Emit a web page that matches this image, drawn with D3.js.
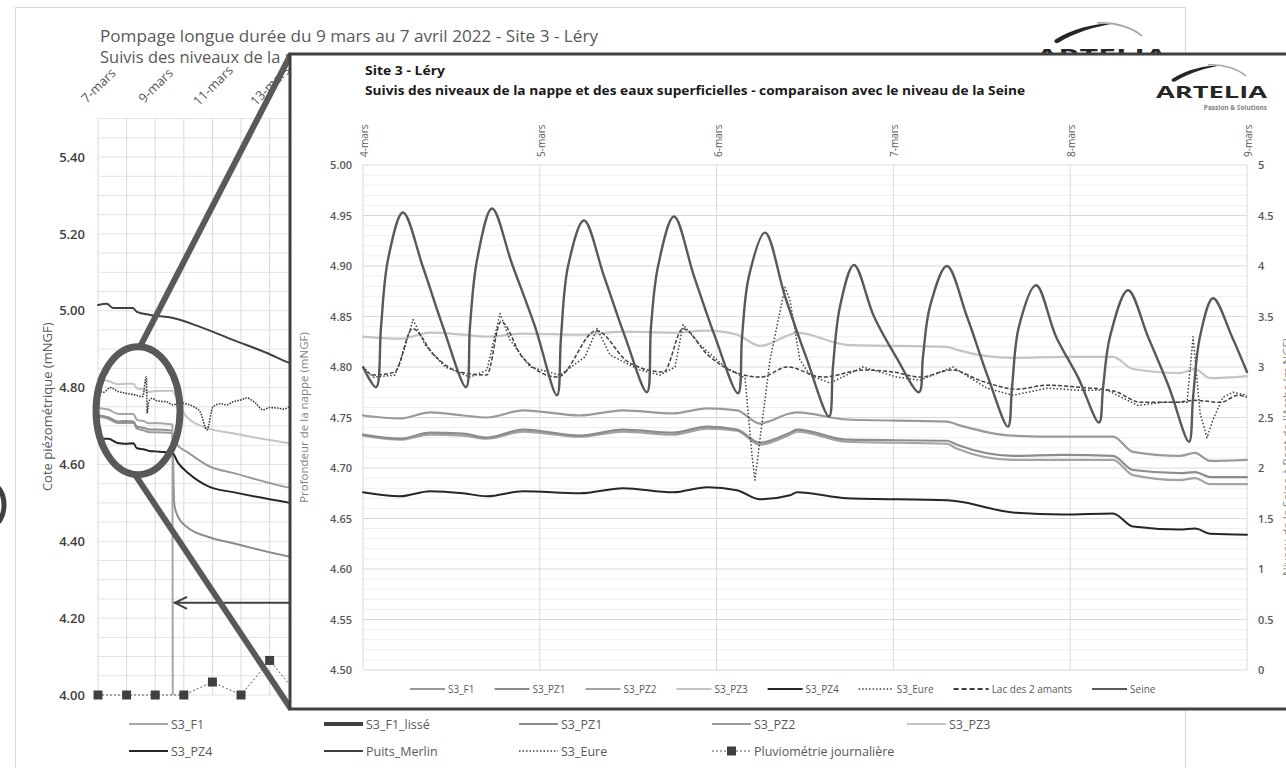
<!DOCTYPE html>
<html lang="fr">
<head>
<meta charset="UTF-8">
<title>Site 3 - Léry</title>
<script src="https://cdn.jsdelivr.net/npm/d3@7"></script>
<style>
  body { margin: 0; background: #fff; }
  svg { display: block; font-family: 'Open Sans', sans-serif; }
</style>
</head>
<body>
<script>
// ---------- données : graphique de fond (jours comptés depuis le 1er mars) ----------
const bgDayTicks  = [7, 9, 11, 13, 15, 17, 19, 21, 23, 25, 27, 29, 31, 33, 35, 37, 39];
const bgDayLabels = ['7-mars', '9-mars', '11-mars', '13-mars', '15-mars', '17-mars', '19-mars', '21-mars',
  '23-mars', '25-mars', '27-mars', '29-mars', '31-mars', '2-avr.', '4-avr.', '6-avr.', '8-avr.'];
const bgYTicks = [4.0, 4.2, 4.4, 4.6, 4.8, 5.0, 5.2, 5.4];

const bgF1Days = [7.0, 7.36, 7.68, 7.96, 8.24, 8.36, 8.62, 8.79, 9.0, 9.6, 9.63, 14.5];
const bgF1     = [4.747, 4.743, 4.732, 4.731, 4.731, 4.716, 4.712, 4.707, 4.708, 4.704, 3.2, 3.1];
const bgF1LisseDays = [9.63, 14.5];
const bgF1Lisse     = [3.3, 3.2];
const bgPZ1Days = [7.0, 7.36, 7.68, 7.96, 8.24, 8.36, 8.62, 8.79, 9.0, 9.6, 9.66, 9.76, 10.11, 10.92, 11.72, 13.71, 14.5];
const bgPZ1     = [4.728, 4.723, 4.712, 4.713, 4.712, 4.698, 4.695, 4.691, 4.691, 4.688, 4.50, 4.47, 4.437, 4.41, 4.395, 4.36, 4.35];
const bgPZ2Days = [7.0, 7.36, 7.68, 7.96, 8.24, 8.36, 8.62, 8.79, 9.0, 9.6, 9.72, 10.17, 10.92, 11.72, 13.71, 14.5];
const bgPZ2     = [4.725, 4.719, 4.708, 4.708, 4.708, 4.693, 4.688, 4.684, 4.684, 4.682, 4.656, 4.63, 4.594, 4.578, 4.539, 4.53];
const bgPZ3Days = [7.0, 7.36, 7.68, 7.96, 8.24, 8.36, 8.62, 8.79, 9.0, 9.6, 9.8, 10.11, 10.8, 11.72, 13.71, 14.5];
const bgPZ3     = [4.823, 4.817, 4.809, 4.810, 4.810, 4.798, 4.794, 4.789, 4.791, 4.792, 4.76, 4.723, 4.695, 4.681, 4.655, 4.648];
const bgPZ4Days = [7.0, 7.36, 7.68, 7.96, 8.24, 8.36, 8.62, 8.79, 9.0, 9.6, 9.8, 10.15, 10.92, 11.72, 13.71, 14.5];
const bgPZ4     = [4.667, 4.667, 4.656, 4.654, 4.655, 4.642, 4.639, 4.635, 4.634, 4.630, 4.604, 4.578, 4.541, 4.528, 4.50, 4.49];
const bgMerlinDays = [7.0, 7.31, 7.52, 8.22, 8.36, 8.82, 9.62, 10.57, 11.72, 12.91, 13.71, 14.5];
const bgMerlin     = [5.015, 5.018, 5.007, 5.007, 4.997, 4.989, 4.981, 4.958, 4.924, 4.89, 4.864, 4.85];
const bgEureDays = [7.0, 7.2, 7.42, 7.7, 8.0, 8.3, 8.56, 8.69, 8.72, 8.76, 8.87, 9.1, 9.4, 9.62, 9.9, 10.11, 10.35,
  10.57, 10.81, 11.02, 11.3, 11.5, 11.72, 12.0, 12.2, 12.5, 12.77, 13.0, 13.26, 13.5, 13.71, 14.5];
const bgEure     = [4.794, 4.788, 4.800, 4.790, 4.785, 4.781, 4.776, 4.828, 4.733, 4.760, 4.772, 4.765, 4.763, 4.755,
  4.760, 4.757, 4.750, 4.737, 4.69, 4.75, 4.758, 4.755, 4.763, 4.768, 4.773, 4.760, 4.742, 4.748, 4.747, 4.744, 4.75, 4.752];
const rainDays = [7, 8, 9, 10, 11, 12, 13, 14];
const rainMm   = [0, 0, 0, 0, 0.9, 0, 2.4, 0];
const pumpStart = 9.62;

// ---------- données : zoom du 4 au 9 mars ----------
const insetDayTicks  = [4, 5, 6, 7, 8, 9];
const insetDayLabels = ['4-mars', '5-mars', '6-mars', '7-mars', '8-mars', '9-mars'];
const insetYTicks = [4.50, 4.55, 4.60, 4.65, 4.70, 4.75, 4.80, 4.85, 4.90, 4.95, 5.00];
const seineTicks  = [0, 0.5, 1, 1.5, 2, 2.5, 3, 3.5, 4, 4.5, 5];

const insetTimes = [4.0, 4.209, 4.379, 4.566, 4.701, 4.905, 5.227, 5.471, 5.753, 5.946, 6.115, 6.245, 6.415,
  6.455, 6.738, 7.303, 7.360, 7.676, 7.959, 8.242, 8.355, 8.621, 8.706, 8.791, 9.0];
const inF1  = [4.752, 4.749, 4.755, 4.752, 4.750, 4.757, 4.752, 4.757, 4.754, 4.759, 4.757, 4.744, 4.754,
  4.755, 4.748, 4.746, 4.743, 4.732, 4.731, 4.731, 4.716, 4.712, 4.715, 4.707, 4.708];
const inPZ1 = [4.733, 4.729, 4.735, 4.734, 4.730, 4.738, 4.732, 4.738, 4.735, 4.741, 4.738, 4.725, 4.735,
  4.738, 4.728, 4.727, 4.723, 4.712, 4.713, 4.712, 4.698, 4.695, 4.696, 4.691, 4.691];
const inPZ2 = [4.732, 4.728, 4.733, 4.732, 4.729, 4.736, 4.731, 4.736, 4.733, 4.739, 4.737, 4.723, 4.733,
  4.736, 4.726, 4.724, 4.719, 4.708, 4.708, 4.708, 4.693, 4.688, 4.690, 4.684, 4.684];
const inPZ3 = [4.830, 4.828, 4.834, 4.832, 4.830, 4.833, 4.832, 4.835, 4.834, 4.836, 4.832, 4.821, 4.832,
  4.834, 4.822, 4.820, 4.817, 4.809, 4.810, 4.810, 4.798, 4.794, 4.798, 4.789, 4.791];
const inPZ4 = [4.676, 4.672, 4.677, 4.675, 4.672, 4.677, 4.675, 4.680, 4.676, 4.681, 4.678, 4.669, 4.673,
  4.676, 4.670, 4.668, 4.667, 4.656, 4.654, 4.655, 4.642, 4.639, 4.640, 4.635, 4.634];

const eureTimes = [4.0, 4.057, 4.181, 4.238, 4.283, 4.351, 4.464, 4.605, 4.701, 4.775, 4.831, 4.945, 5.114,
  5.256, 5.324, 5.397, 5.567, 5.680, 5.765, 5.810, 5.906, 6.048, 6.161, 6.200, 6.217, 6.245, 6.302, 6.387,
  6.415, 6.471, 6.528, 6.641, 6.828, 7.020, 7.150, 7.337, 7.529, 7.676, 7.869, 8.055, 8.208, 8.383, 8.525,
  8.661, 8.695, 8.735, 8.774, 8.808, 8.864, 8.921, 9.0];
const eureLevel = [4.800, 4.790, 4.792, 4.820, 4.847, 4.822, 4.800, 4.790, 4.797, 4.853, 4.827, 4.800, 4.792,
  4.810, 4.838, 4.812, 4.797, 4.792, 4.800, 4.842, 4.822, 4.800, 4.789, 4.713, 4.688, 4.728, 4.807, 4.879,
  4.866, 4.807, 4.792, 4.784, 4.800, 4.790, 4.787, 4.800, 4.779, 4.772, 4.779, 4.777, 4.777, 4.762, 4.765,
  4.765, 4.830, 4.754, 4.730, 4.748, 4.770, 4.775, 4.772];

const lacTimes = [4.0, 4.06, 4.18, 4.28, 4.40, 4.55, 4.70, 4.78, 4.90, 5.10, 5.32, 5.50, 5.70, 5.81, 5.95,
  6.10, 6.25, 6.40, 6.60, 6.83, 7.00, 7.15, 7.33, 7.50, 7.70, 7.87, 8.05, 8.25, 8.40, 8.60, 8.70, 8.85, 8.95, 9.0];
const lacLevel = [4.800, 4.792, 4.795, 4.838, 4.812, 4.795, 4.792, 4.845, 4.810, 4.790, 4.836, 4.805, 4.795,
  4.838, 4.812, 4.795, 4.790, 4.800, 4.790, 4.797, 4.795, 4.790, 4.797, 4.786, 4.778, 4.782, 4.780, 4.776,
  4.765, 4.765, 4.767, 4.765, 4.772, 4.770];

const seineTimes = [4.000, 4.074, 4.102, 4.141, 4.226, 4.339, 4.452, 4.583, 4.605, 4.645, 4.730, 4.843, 4.973,
  5.097, 5.120, 5.160, 5.250, 5.363, 5.482, 5.606, 5.629, 5.669, 5.759, 5.872, 5.991, 6.121, 6.144, 6.183,
  6.274, 6.387, 6.506, 6.636, 6.658, 6.698, 6.777, 6.890, 7.015, 7.145, 7.167, 7.207, 7.303, 7.416, 7.535,
  7.648, 7.671, 7.710, 7.807, 7.920, 8.044, 8.163, 8.186, 8.225, 8.327, 8.440, 8.559, 8.672, 8.695, 8.734,
  8.808, 8.915, 9.000];
const seineLevel = [3.00, 2.80, 3.40, 4.06, 4.53, 3.99, 3.40, 2.80, 3.40, 4.06, 4.57, 4.02, 3.40,
  2.72, 3.30, 4.00, 4.45, 3.90, 3.30, 2.75, 3.40, 4.00, 4.49, 3.90, 3.30, 2.74, 3.30, 3.90,
  4.33, 3.70, 3.10, 2.51, 3.00, 3.60, 4.01, 3.50, 3.10, 2.75, 3.10, 3.60, 4.00, 3.50, 2.90,
  2.41, 2.80, 3.40, 3.81, 3.30, 2.90, 2.45, 2.80, 3.30, 3.76, 3.30, 2.80, 2.26, 2.70, 3.30,
  3.68, 3.30, 2.95];

// ---------- mise en page ----------
const W = 1286, H = 768;
const svg = d3.select('body').append('svg').attr('width', W).attr('height', H);

function addText(g, x, y, str, size, opts) {
  opts = opts || {};
  const t = g.append('text').attr('x', x).attr('y', y).text(str)
    .attr('font-size', size)
    .attr('fill', opts.fill || '#595959')
    .attr('font-weight', opts.weight || 400)
    .attr('text-anchor', opts.anchor || 'start');
  if (opts.fit) t.attr('textLength', opts.fit).attr('lengthAdjust', 'spacingAndGlyphs');
  if (opts.rotate) t.attr('transform', 'rotate(' + opts.rotate + ',' + x + ',' + y + ')');
  return t;
}

function drawSeries(g, xs, ys, xScale, yScale, st) {
  const line = d3.line()
    .x(function (d) { return xScale(d[0]); })
    .y(function (d) { return yScale(d[1]); })
    .curve(st.curve || d3.curveMonotoneX);
  return g.append('path')
    .attr('d', line(d3.zip(xs, ys)))
    .attr('fill', 'none')
    .attr('stroke', st.color)
    .attr('stroke-width', st.width)
    .attr('stroke-dasharray', st.dash || null)
    .attr('stroke-linejoin', 'round')
    .attr('stroke-linecap', st.dash ? 'butt' : 'round');
}

function drawLogo(g, x, y, s, tagline) {
  const lg = g.append('g').attr('transform', 'translate(' + x + ',' + y + ') scale(' + s + ')');
  lg.append('path')
    .attr('d', 'M16,15 C30,6 48,1 68,1 C50,3.5 33,9 19,17.5 C17,18.5 14.5,17 16,15 Z')
    .attr('fill', '#262626');
  lg.append('path')
    .attr('d', 'M52,0.8 C68,0 82,5 90,12')
    .attr('fill', 'none').attr('stroke', '#a6a6a6').attr('stroke-width', 1.4);
  addText(lg, 0, 34, 'ARTELIA', 15.5, { fill: '#262626', weight: 700, fit: 111 });
  if (tagline) addText(lg, 111, 46, 'Passion & Solutions', 6.5, { fill: '#808080', weight: 700, anchor: 'end' });
}

// ================= graphique de fond =================
const bg = { left: 98, right: 1042, top: 118.6, bottom: 695 };
const bgX = d3.scaleLinear().domain([7, 40]).range([bg.left, bg.right]);
const bgY = d3.scaleLinear().domain([4.0, 5.5]).range([bg.bottom, bg.top]);
const bgRain = d3.scaleLinear().domain([0, 40]).range([bg.bottom, bg.top]);

const bgG = svg.append('g');
bgG.append('rect').attr('x', 15.5).attr('y', 7.5).attr('width', 1170).attr('height', 800)
  .attr('fill', '#fff').attr('stroke', '#d9d9d9');

addText(bgG, 100, 42, 'Pompage longue durée du 9 mars au 7 avril 2022 - Site 3 - Léry', 16.5, { fit: 498 });
addText(bgG, 100, 63, 'Suivis des niveaux de la nappe', 16.5);
drawLogo(bgG, 1036, 22, 1.18, false);

svg.append('defs').append('clipPath').attr('id', 'bg-clip')
  .append('rect').attr('x', bg.left - 2).attr('y', bg.top)
  .attr('width', bg.right - bg.left + 4).attr('height', bg.bottom - bg.top);

const bgGrid = bgG.append('g');
bgGrid.selectAll('line.h').data(d3.range(80, 111).map(function (k) { return k / 20; }))
  .enter().append('line')
  .attr('x1', bg.left).attr('x2', bg.right)
  .attr('y1', function (d) { return bgY(d); }).attr('y2', function (d) { return bgY(d); })
  .attr('stroke', '#e3e3e3');
bgGrid.selectAll('line.v').data(d3.range(7, 41))
  .enter().append('line')
  .attr('x1', function (d) { return bgX(d); }).attr('x2', function (d) { return bgX(d); })
  .attr('y1', bg.top).attr('y2', bg.bottom)
  .attr('stroke', '#d9d9d9');

const bgTopAxis = bgG.append('g').attr('transform', 'translate(0,' + (bg.top - 33) + ')')
  .call(d3.axisTop(bgX).tickValues(bgDayTicks)
    .tickFormat(function (d, i) { return bgDayLabels[i]; })
    .tickSize(0).tickPadding(0));
bgTopAxis.select('.domain').remove();
bgTopAxis.attr('font-family', null).attr('font-size', null);
bgTopAxis.selectAll('text')
  .attr('x', 0).attr('y', 0).attr('dy', '0.35em')
  .attr('text-anchor', 'middle')
  .attr('transform', 'rotate(-45)')
  .attr('font-size', 13).attr('fill', '#595959');

const bgLeftAxis = bgG.append('g').attr('transform', 'translate(' + bg.left + ',0)')
  .call(d3.axisLeft(bgY).tickValues(bgYTicks).tickFormat(d3.format('.2f'))
    .tickSize(0).tickPadding(13));
bgLeftAxis.select('.domain').remove();
bgLeftAxis.attr('font-family', null).attr('font-size', null);
bgLeftAxis.selectAll('text').attr('font-size', 13).attr('font-weight', 600).attr('fill', '#404040');

addText(bgG, 52, (bg.top + bg.bottom) / 2, 'Cote piézométrique (mNGF)', 13,
  { anchor: 'middle', rotate: -90 });

const bgBody = bgG.append('g').attr('clip-path', 'url(#bg-clip)');
const bgSt = {
  F1:     { color: '#a6a6a6', width: 2 },
  F1L:    { color: '#404040', width: 4 },
  PZ1:    { color: '#8c8c8c', width: 2 },
  PZ2:    { color: '#9a9a9a', width: 2 },
  PZ3:    { color: '#c4c4c4', width: 2 },
  PZ4:    { color: '#262626', width: 2 },
  Merlin: { color: '#404040', width: 2 },
  Eure:   { color: '#404040', width: 1.6, dash: '1.6,1.2' },
  Rain:   { color: '#595959', width: 1, dash: '2,2' }
};
drawSeries(bgBody, bgMerlinDays, bgMerlin, bgX, bgY, bgSt.Merlin);
drawSeries(bgBody, bgPZ3Days, bgPZ3, bgX, bgY, bgSt.PZ3);
drawSeries(bgBody, bgPZ2Days, bgPZ2, bgX, bgY, bgSt.PZ2);
drawSeries(bgBody, bgPZ1Days, bgPZ1, bgX, bgY, bgSt.PZ1);
drawSeries(bgBody, bgF1Days, bgF1, bgX, bgY, bgSt.F1);
drawSeries(bgBody, bgF1LisseDays, bgF1Lisse, bgX, bgY, bgSt.F1L);
drawSeries(bgBody, bgPZ4Days, bgPZ4, bgX, bgY, bgSt.PZ4);
drawSeries(bgBody, bgEureDays, bgEure, bgX, bgY, bgSt.Eure);

// pluviométrie journalière (axe secondaire non affiché)
bgG.append('path')
  .attr('d', d3.line().x(function (d) { return bgX(d[0]); }).y(function (d) { return bgRain(d[1]); })(d3.zip(rainDays, rainMm)))
  .attr('fill', 'none').attr('stroke', bgSt.Rain.color).attr('stroke-width', 1).attr('stroke-dasharray', '2,2');
bgG.selectAll('rect.rain').data(d3.zip(rainDays, rainMm)).enter().append('rect')
  .attr('x', function (d) { return bgX(d[0]) - 4.5; })
  .attr('y', function (d) { return bgRain(d[1]) - 4.5; })
  .attr('width', 9).attr('height', 9).attr('fill', '#404040');

// flèche : début du pompage
const arrowY = bgY(4.24);
bgG.append('line').attr('x1', bgX(pumpStart) + 1).attr('x2', 300).attr('y1', arrowY).attr('y2', arrowY)
  .attr('stroke', '#404040').attr('stroke-width', 2);
bgG.append('path')
  .attr('d', 'M' + (bgX(pumpStart) + 14) + ',' + (arrowY - 6) + ' L' + (bgX(pumpStart) + 2) + ',' + arrowY +
    ' L' + (bgX(pumpStart) + 14) + ',' + (arrowY + 6))
  .attr('fill', 'none').attr('stroke', '#404040').attr('stroke-width', 2);

// légende du fond
const bgLegCols = [129, 324, 519, 712, 907];
const bgLegRows = [724, 751];
const bgLegend = [
  ['S3_F1', bgSt.F1], ['S3_F1_lissé', bgSt.F1L], ['S3_PZ1', bgSt.PZ1], ['S3_PZ2', bgSt.PZ2], ['S3_PZ3', bgSt.PZ3],
  ['S3_PZ4', bgSt.PZ4], ['Puits_Merlin', bgSt.Merlin], ['S3_Eure', { color: '#404040', width: 1.5, dash: '1.5,2' }],
  ['Pluviométrie journalière', bgSt.Rain]
];
bgLegend.forEach(function (item, i) {
  const x = bgLegCols[i % 5], y = bgLegRows[Math.floor(i / 5)];
  const st = item[1];
  bgG.append('line').attr('x1', x).attr('x2', x + 39).attr('y1', y).attr('y2', y)
    .attr('stroke', st.color).attr('stroke-width', st.width).attr('stroke-dasharray', st.dash || null);
  if (item[0].indexOf('Pluvio') === 0) {
    bgG.append('rect').attr('x', x + 15).attr('y', y - 4.5).attr('width', 9).attr('height', 9).attr('fill', '#404040');
  }
  addText(bgG, x + 42, y + 4.5, item[0], 12.5);
});

// ================= loupe =================
const frame = { x: 290, y: 54, w: 1010, h: 655 };
const lens = { cx: bgX(8.4), cy: bgY(4.74), rx: 42, ry: 64 };
svg.append('ellipse').attr('cx', lens.cx).attr('cy', lens.cy).attr('rx', lens.rx).attr('ry', lens.ry)
  .attr('fill', 'none').attr('stroke', '#595959').attr('stroke-width', 7);
svg.append('line').attr('x1', lens.cx + 2).attr('y1', lens.cy - lens.ry).attr('x2', frame.x + 1).attr('y2', frame.y)
  .attr('stroke', '#595959').attr('stroke-width', 6);
svg.append('line').attr('x1', lens.cx - 3).attr('y1', lens.cy + lens.ry).attr('x2', frame.x + 1).attr('y2', frame.y + frame.h)
  .attr('stroke', '#595959').attr('stroke-width', 6);
svg.append('ellipse').attr('cx', -8).attr('cy', 505).attr('rx', 12).attr('ry', 20)
  .attr('fill', 'none').attr('stroke', '#404040').attr('stroke-width', 5);

// ================= graphique agrandi =================
const ins = { left: 363, right: 1247, top: 165, bottom: 670 };
const inX = d3.scaleLinear().domain([4, 9]).range([ins.left, ins.right]);
const inY = d3.scaleLinear().domain([4.5, 5.0]).range([ins.bottom, ins.top]);
const inY2 = d3.scaleLinear().domain([0, 5]).range([ins.bottom, ins.top]);

const inG = svg.append('g');
inG.append('rect').attr('x', frame.x).attr('y', frame.y).attr('width', frame.w).attr('height', frame.h)
  .attr('fill', '#fff').attr('stroke', '#404040').attr('stroke-width', 3);

addText(inG, 365, 75, 'Site 3 - Léry', 13, { fill: '#1a1a1a', weight: 700, fit: 80 });
addText(inG, 365, 95, 'Suivis des niveaux de la nappe et des eaux superficielles - comparaison  avec le niveau de la Seine',
  13, { fill: '#1a1a1a', weight: 700, fit: 660 });
drawLogo(inG, 1156, 64, 1, true);

const inGrid = inG.append('g');
inGrid.selectAll('line.m').data(d3.range(450, 501).map(function (k) { return k / 100; }))
  .enter().append('line')
  .attr('x1', ins.left).attr('x2', ins.right)
  .attr('y1', function (d) { return inY(d); }).attr('y2', function (d) { return inY(d); })
  .attr('stroke', function (d, i) { return i % 5 === 0 ? '#d9d9d9' : '#eeeeee'; });
inGrid.selectAll('line.v').data(insetDayTicks)
  .enter().append('line')
  .attr('x1', function (d) { return inX(d); }).attr('x2', function (d) { return inX(d); })
  .attr('y1', ins.top).attr('y2', ins.bottom)
  .attr('stroke', '#d9d9d9');

const inTopAxis = inG.append('g').attr('transform', 'translate(0,157)')
  .call(d3.axisTop(inX).tickValues(insetDayTicks)
    .tickFormat(function (d, i) { return insetDayLabels[i]; })
    .tickSize(0).tickPadding(0));
inTopAxis.select('.domain').remove();
inTopAxis.attr('font-family', null).attr('font-size', null);
inTopAxis.selectAll('text')
  .attr('x', 0).attr('y', 0).attr('dy', 0).attr('text-anchor', 'start')
  .attr('transform', 'translate(4.5,0) rotate(-90)')
  .attr('font-size', 10).attr('fill', '#595959');

const inLeftAxis = inG.append('g').attr('transform', 'translate(' + ins.left + ',0)')
  .call(d3.axisLeft(inY).tickValues(insetYTicks).tickFormat(d3.format('.2f')).tickSize(0).tickPadding(11));
inLeftAxis.select('.domain').remove();
inLeftAxis.attr('font-family', null).attr('font-size', null);
inLeftAxis.selectAll('text').attr('font-size', 11).attr('font-weight', 600).attr('fill', '#595959');

const inRightAxis = inG.append('g').attr('transform', 'translate(' + ins.right + ',0)')
  .call(d3.axisRight(inY2).tickValues(seineTicks).tickFormat(d3.format('~g')).tickSize(0).tickPadding(11));
inRightAxis.select('.domain').remove();
inRightAxis.attr('font-family', null).attr('font-size', null);
inRightAxis.selectAll('text').attr('font-size', 11).attr('font-weight', 600).attr('fill', '#595959');

addText(inG, 308, (ins.top + ins.bottom) / 2, 'Profondeur de la nappe (mNGF)', 11.5,
  { anchor: 'middle', rotate: -90, fill: '#7f7f7f' });
addText(inG, 1291, 457, "Niveau de la Seine à Pont de l'Arche (m NGF)", 11.5,
  { anchor: 'middle', rotate: -90, fill: '#7f7f7f' });

const inSt = {
  F1:    { color: '#9a9a9a', width: 2.2 },
  PZ1:   { color: '#8c8c8c', width: 2.2 },
  PZ2:   { color: '#a3a3a3', width: 2.2 },
  PZ3:   { color: '#c4c4c4', width: 2.2 },
  PZ4:   { color: '#262626', width: 2 },
  Eure:  { color: '#404040', width: 1.5, dash: '1.5,2', curve: d3.curveLinear },
  Lac:   { color: '#404040', width: 1.5, dash: '4,2' },
  Seine: { color: '#595959', width: 2.4, curve: d3.curveCatmullRom.alpha(0.5) }
};
drawSeries(inG, insetTimes, inPZ3, inX, inY, inSt.PZ3);
drawSeries(inG, insetTimes, inF1, inX, inY, inSt.F1);
drawSeries(inG, insetTimes, inPZ2, inX, inY, inSt.PZ2);
drawSeries(inG, insetTimes, inPZ1, inX, inY, inSt.PZ1);
drawSeries(inG, insetTimes, inPZ4, inX, inY, inSt.PZ4);
drawSeries(inG, lacTimes, lacLevel, inX, inY, inSt.Lac);
drawSeries(inG, eureTimes, eureLevel, inX, inY, inSt.Eure);
drawSeries(inG, seineTimes, seineLevel, inX, inY2, inSt.Seine);

// légende du graphique agrandi
const inLegend = [
  ['S3_F1', inSt.F1], ['S3_PZ1', inSt.PZ1], ['S3_PZ2', inSt.PZ2], ['S3_PZ3', inSt.PZ3], ['S3_PZ4', inSt.PZ4],
  ['S3_Eure', inSt.Eure], ['Lac des 2 amants', { color: '#404040', width: 2, dash: '5,3' }], ['Seine', inSt.Seine]
];
let lx = 410;
const ly = 689;
inLegend.forEach(function (item) {
  const st = item[1];
  inG.append('line').attr('x1', lx).attr('x2', lx + 35).attr('y1', ly).attr('y2', ly)
    .attr('stroke', st.color).attr('stroke-width', Math.min(st.width, 2)).attr('stroke-dasharray', st.dash || null);
  const t = addText(inG, lx + 38, ly + 3.5, item[0], 10);
  lx += 38 + t.node().getComputedTextLength() + 20;
});
</script>
</body>
</html>
